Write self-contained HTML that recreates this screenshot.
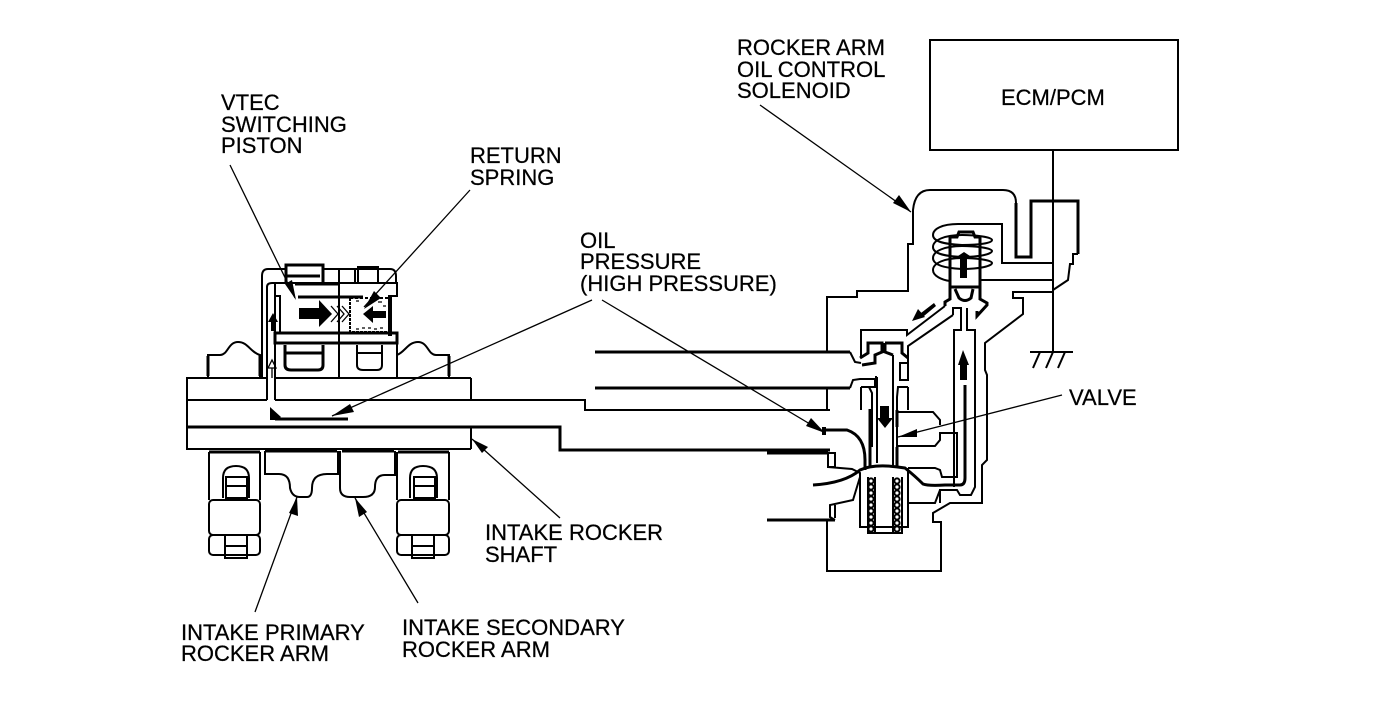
<!DOCTYPE html>
<html><head><meta charset="utf-8"><style>
html,body{margin:0;padding:0;background:#fff}
svg{display:block}
text{font-family:"Liberation Sans",sans-serif;font-size:22px;fill:#000;stroke:#000;stroke-width:.25}
.l{fill:none;stroke:#000;stroke-width:2}
.b{fill:none;stroke:#000;stroke-width:3}
.t{fill:none;stroke:#000;stroke-width:1.3}
.k{fill:#000;stroke:none}
</style></head><body>
<svg width="1392" height="714" viewBox="0 0 1392 714" xmlns="http://www.w3.org/2000/svg">
<rect width="1392" height="714" fill="#fff"/>
<!-- labels -->
<text x="737" y="55">ROCKER ARM</text><text x="737" y="77">OIL CONTROL</text><text x="737" y="98">SOLENOID</text>
<text x="1001" y="105">ECM/PCM</text>
<text x="221" y="110">VTEC</text><text x="221" y="132">SWITCHING</text><text x="221" y="153">PISTON</text>
<text x="470" y="163">RETURN</text><text x="470" y="185">SPRING</text>
<text x="580" y="248">OIL</text><text x="580" y="269">PRESSURE</text><text x="580" y="291">(HIGH PRESSURE)</text>
<text x="1069" y="405">VALVE</text>
<text x="485" y="540">INTAKE ROCKER</text><text x="485" y="562">SHAFT</text>
<text x="181" y="640">INTAKE PRIMARY</text><text x="181" y="661">ROCKER ARM</text>
<text x="402" y="635">INTAKE SECONDARY</text><text x="402" y="657">ROCKER ARM</text>
<!-- ECM -->
<rect x="930" y="40" width="248" height="110" class="l"/>
<!-- leaders -->
<g class="t">
<path d="M230 165L295 298M470 190L364 307M592 300L332 416M602 300L825 433M560 518L472 439M255 612L297 497M418 603L355 498M760 105L911 212M1062 395L898 437"/>
</g>
<g class="k">
<path d="M296 300L285 284L292 280Z"/>
<path d="M364 309L374 291L381 298Z"/>
<path d="M332 416L350 404L354 412Z"/>
<path d="M825 433L806 426L811 418Z"/>
<path d="M472 439L488 447L482 453Z"/>
<path d="M297 497L298 516L289 513Z"/>
<path d="M355 498L367 512L359 517Z"/>
<path d="M911 212L893 203L899 195Z"/>
<path d="M898 437L917 429L917 437Z"/>
</g>
<!-- shaft -->
<path class="l" d="M471 378H275M267 378H187V449H471M187 400H267M275 400H585V410H830M471 378V400M471 427V449"/>
<path class="b" d="M187 427H560V450H830"/>
<!-- upper assembly -->
<path class="l" d="M262 378V276Q262 269 268 269H286M323 269H390Q396 269 396 276V283"/>
<path class="b" d="M286 284V265H323V284M286 276H320"/>
<path class="l" d="M323 269V283M339 269V343M355 269V283M358 283V267H378V283"/>
<path class="l" d="M267 400V287Q267 283 272 283H397V296H388M275 400V296H280V333M275 283V296"/>
<path class="b" d="M295 284H339M298 297H363"/>
<path class="b" d="M275 333H397V343H275Z"/>
<path class="l" d="M350 298V332H388" stroke-dasharray="3 1"/>
<path class="l" d="M350 298H388" stroke-dasharray="3 2"/>
<rect class="k" x="388" y="296" width="4" height="40"/>
<path class="k" d="M299 308H319V300L332 314L319 327V319H299Z"/>
<path class="t" d="M331 306L338 314L331 322M337 306L344 314L337 322M342 306L349 314L342 322"/>
<path class="k" d="M363 314L373 306V311H386V318H373V323Z"/>
<g class="t"><path d="M356 301h3M356 329h3M362 328h3M368 328h3M374 329h3M380 328h3M378 302h4M383 306h3"/></g>
<path class="k" d="M273 313L268 322H271V331H275V322H278Z"/>
<path class="t" d="M272 360L268 368H276ZM272 368V378"/>
<path class="l" d="M275 343V378M339 343V378M397 343V378"/>
<path class="b" d="M285 345V365Q285 370 291 370H318Q323 370 323 365V345M285 353H323"/>
<path class="l" d="M357 345V365Q357 370 363 370H377Q382 370 382 365V345M357 353H382"/>
<path class="l" d="M208 378V355H220C228 355 228 342 238 342C248 342 250 352 260 355V378"/>
<path class="b" d="M208 356V376M260 355V376"/>
<path class="l" d="M397 355C405 352 408 342 418 342C428 342 428 355 436 355H449V378"/>
<path class="b" d="M449 356V376"/>
<path class="l" d="M208 378H260M400 378H449"/>
<!-- oil -->
<path class="b" d="M275 419H348"/>
<path class="k" d="M270 407L281 417L276 420H270Z"/>
<!-- lower assembly -->
<path class="b" d="M209 452H260M265 451H337M342 451H394M398 452H449"/>
<g class="l">
<path d="M209 452V500M260 452V500M397 452V500M449 452V500"/>
<rect x="209" y="500" width="51" height="35" rx="4"/>
<rect x="209" y="535" width="51" height="20" rx="4"/>
<rect x="397" y="500" width="52" height="35" rx="4"/>
<rect x="397" y="535" width="52" height="20" rx="4"/>
<path d="M223 498V478Q223 466 236 466Q249 466 249 478V498"/>
<path d="M410 498V478Q410 466 423 466Q437 466 437 478V498"/>
<rect x="226" y="477" width="21" height="21"/>
<rect x="414" y="477" width="21" height="21"/>
<rect x="225" y="535" width="22" height="23"/>
<rect x="412" y="535" width="22" height="23"/>
<path d="M226 486H247M414 486H435M225 546H247M412 546H434"/>
<path d="M265 451V474H279Q290 474 290 488Q292 497 300 497H307Q312 497 312 488Q312 474 327 474H338V451"/>
<path d="M340 451V488Q340 497 350 497H363Q375 497 375 487Q375 475 385 475H395V451"/>
</g>
<!-- right: pipes -->
<path class="b" d="M595 352H850M595 388H850M767 453H828M767 520H835"/>
<!-- solenoid body -->
<path class="l" d="M827 352V297H857V291H908V244H913V210Q915 190 930 190H1003Q1016 190 1016 203"/>
<path class="b" d="M1016 203V257H1031V201H1078V254"/>
<path class="l" d="M1078 254H1073V264H1070L1068 280L1053 290"/>
<path class="l" d="M1002 223V263H1053M980 280H1053M1053 292H1013V298H1023V314L985 343V370L987 375V460L982 465V503H950L933 513V522H941V571H827V520"/>
<path class="l" d="M1053 150V352"/>
<path class="l" d="M1030 352H1073"/>
<path class="l" d="M1040 352L1033 368M1053 352L1046 368M1065 352L1058 368"/>
<!-- coil -->
<path class="l" d="M1002 224H958C942 224 933 229 933 235C933 241 942 244 962 245C980 245 992 243 992 240C992 237 975 235 962 235C945 235 933 240 933 247C933 253 942 256 962 257C980 257 992 254 992 251C992 248 975 246 962 246C945 246 933 251 933 258C933 264 942 268 962 269C980 269 992 266 992 263C992 260 975 258 962 258C945 258 933 263 933 270C933 276 942 280 950 281"/>
<path class="b" d="M950 288V237H957L959 232H973L975 237H980V288M949 287H981"/>
<path class="b" d="M950 288V299L945 302V306M980 288V299L987 303V305L977 316V311M955 289L959 298Q965 303 971 298L973 289"/>
<path class="k" d="M960 278V258H955L964 252L973 258H967V278Z"/>
<path class="k" d="M912 321L918 309L925 317Z M921 313L934 303L936 306L924 316Z"/>
<path class="l" d="M945 306L907 335V330H861V358M953 315L908 346V358"/>
<path class="l" d="M953 315V308H961V330H954V487M967 308V330H975V487L971 495H960L957 490H940V503"/>
<path class="k" d="M963 350L969 365H967V380H960V365H958Z"/>
<!-- valve -->
<path class="b" d="M860 358L868 353V343H882V352L875 355V363L862 365M885 343V352L893 355M885 343H902V353L908 358"/>
<path class="l" d="M850 352L855 362L861 363M850 388L853 380L860 379H875V387H865M861 387H869L872 393V447M861 387V410"/>
<path class="l" d="M877 377H875M877 377V463M893 355V467M827 388V409"/>
<rect class="l" x="900" y="363" width="8" height="17"/>
<path class="l" d="M908 358V380M908 387H898L897 397V468M908 387V410"/>
<path class="b" d="M870 409V467M897 410V427M897 447V468"/>
<path class="k" d="M880 406H889V418H893L885 428L877 418H880Z"/>
<path class="l" d="M898 412H933L940 420V425M898 446H935L940 440V433H957V477H942L940 470L935 468H908"/>
<path class="l" d="M828 453H835V467H828ZM828 467L852 469L860 473V527H908V468M860 477L853 500L830 505V517L835 520M835 505V518"/>
<path class="l" d="M908 503H935L940 490"/>
<path class="l" d="M868 477V533H902V477M875 477V533M893 477V533"/>
<g class="l" style="fill:#fff">
<circle cx="871" cy="481" r="2.6"/><circle cx="871" cy="487" r="2.6"/><circle cx="871" cy="493" r="2.6"/><circle cx="871" cy="499" r="2.6"/><circle cx="871" cy="505" r="2.6"/><circle cx="871" cy="511" r="2.6"/><circle cx="871" cy="517" r="2.6"/><circle cx="871" cy="523" r="2.6"/><circle cx="871" cy="529" r="2.6"/>
<circle cx="897" cy="481" r="2.6"/><circle cx="897" cy="487" r="2.6"/><circle cx="897" cy="493" r="2.6"/><circle cx="897" cy="499" r="2.6"/><circle cx="897" cy="505" r="2.6"/><circle cx="897" cy="511" r="2.6"/><circle cx="897" cy="517" r="2.6"/><circle cx="897" cy="523" r="2.6"/><circle cx="897" cy="529" r="2.6"/>
</g>
<path class="b" d="M823 430H847Q865 436 865 460V470"/>
<rect class="k" x="822" y="427" width="4" height="8"/>
<path class="b" d="M813 485Q845 483 860 470Q875 463 905 468Q915 476 923 484Q928 486 945 485H960Q965 485 965 478V385"/>
</svg>
</body></html>
